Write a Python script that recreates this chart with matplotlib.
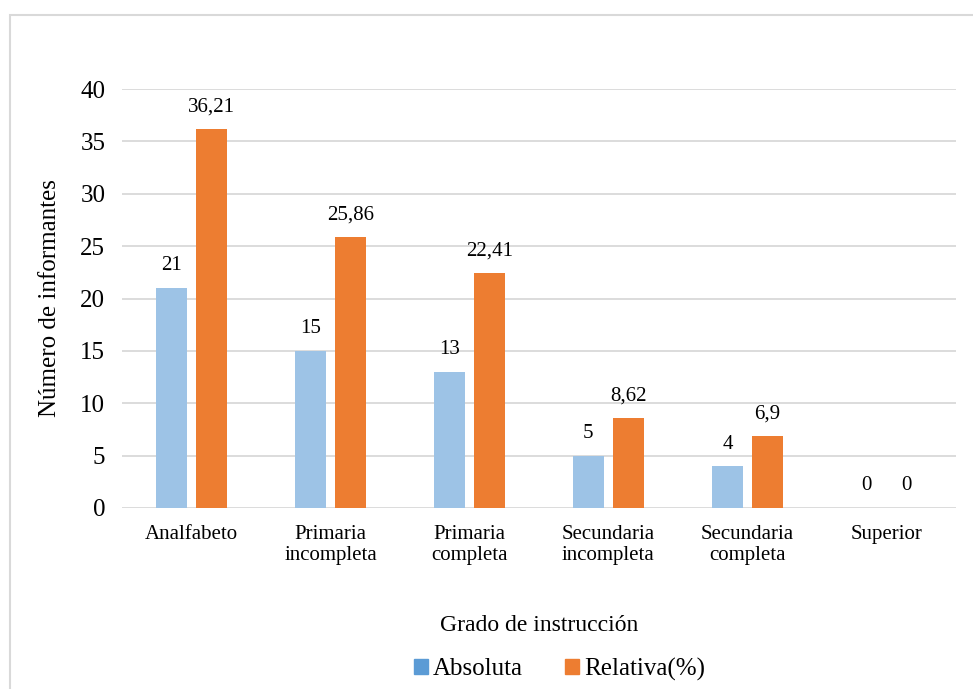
import matplotlib.pyplot as plt
import matplotlib.patches as mpatches
import numpy as np

categorias = ["Analfabeto", "Primaria\nincompleta", "Primaria\ncompleta",
              "Secundaria\nincompleta", "Secundaria\ncompleta", "Superior"]
absoluta = [21, 15, 13, 5, 4, 0]
relativa = [36.21, 25.86, 22.41, 8.62, 6.9, 0]
etiq_abs = ["21", "15", "13", "5", "4", "0"]
etiq_rel = ["36,21", "25,86", "22,41", "8,62", "6,9", "0"]

plt.rcParams["font.family"] = ["Liberation Serif", "DejaVu Serif"]

fig = plt.figure(figsize=(9.73, 6.89), dpi=100)
ax = fig.add_axes([0.1254, 0.2627, 0.857, 0.6081])

# marco del grafico
fig.patches.append(mpatches.Rectangle((10 / 973, -0.05), 1.05, 1 - 15 / 689 + 0.05,
                                      transform=fig.transFigure, fill=False,
                                      edgecolor="#d9d9d9", linewidth=1.5))

x = np.arange(len(categorias))
w = 0.223
off = 0.144
ax.bar(x - off, absoluta, w, color="#9DC3E6", zorder=3)
ax.bar(x + off, relativa, w, color="#ED7D31", zorder=3)

for i in range(len(x)):
    ax.text(x[i] - off, absoluta[i] + 1.2, etiq_abs[i], ha="center", va="bottom", fontsize=15)
    ax.text(x[i] + off, relativa[i] + 1.2, etiq_rel[i], ha="center", va="bottom", fontsize=15)

ax.set_xlim(-0.5, len(x) - 0.5)
ax.set_ylim(0, 40)
ax.set_yticks(range(0, 41, 5))
ax.tick_params(axis="y", labelsize=18, length=0, pad=12)
ax.set_xticks(x)
ax.set_xticklabels(categorias, fontsize=15, linespacing=1.2)
ax.tick_params(axis="x", length=0, pad=12)
ax.grid(axis="y", color="#d9d9d9", linewidth=1.3, zorder=0)
for s in ax.spines.values():
    s.set_visible(False)

ax.set_ylabel("Número de informantes", fontsize=18, labelpad=14)
ax.set_xlabel("Grado de instrucción", fontsize=17, labelpad=36)

h = [mpatches.Patch(color="#5B9BD5"), mpatches.Patch(color="#ED7D31")]
fig.legend(h, ["Absoluta", "Relativa(%)"], loc="center", bbox_to_anchor=(0.575, 1 - 669 / 689),
           ncol=2, frameon=False, fontsize=18, handlelength=0.55, handleheight=0.55,
           handletextpad=0.2, columnspacing=1.7)

fig.savefig("out.png", dpi=100)
